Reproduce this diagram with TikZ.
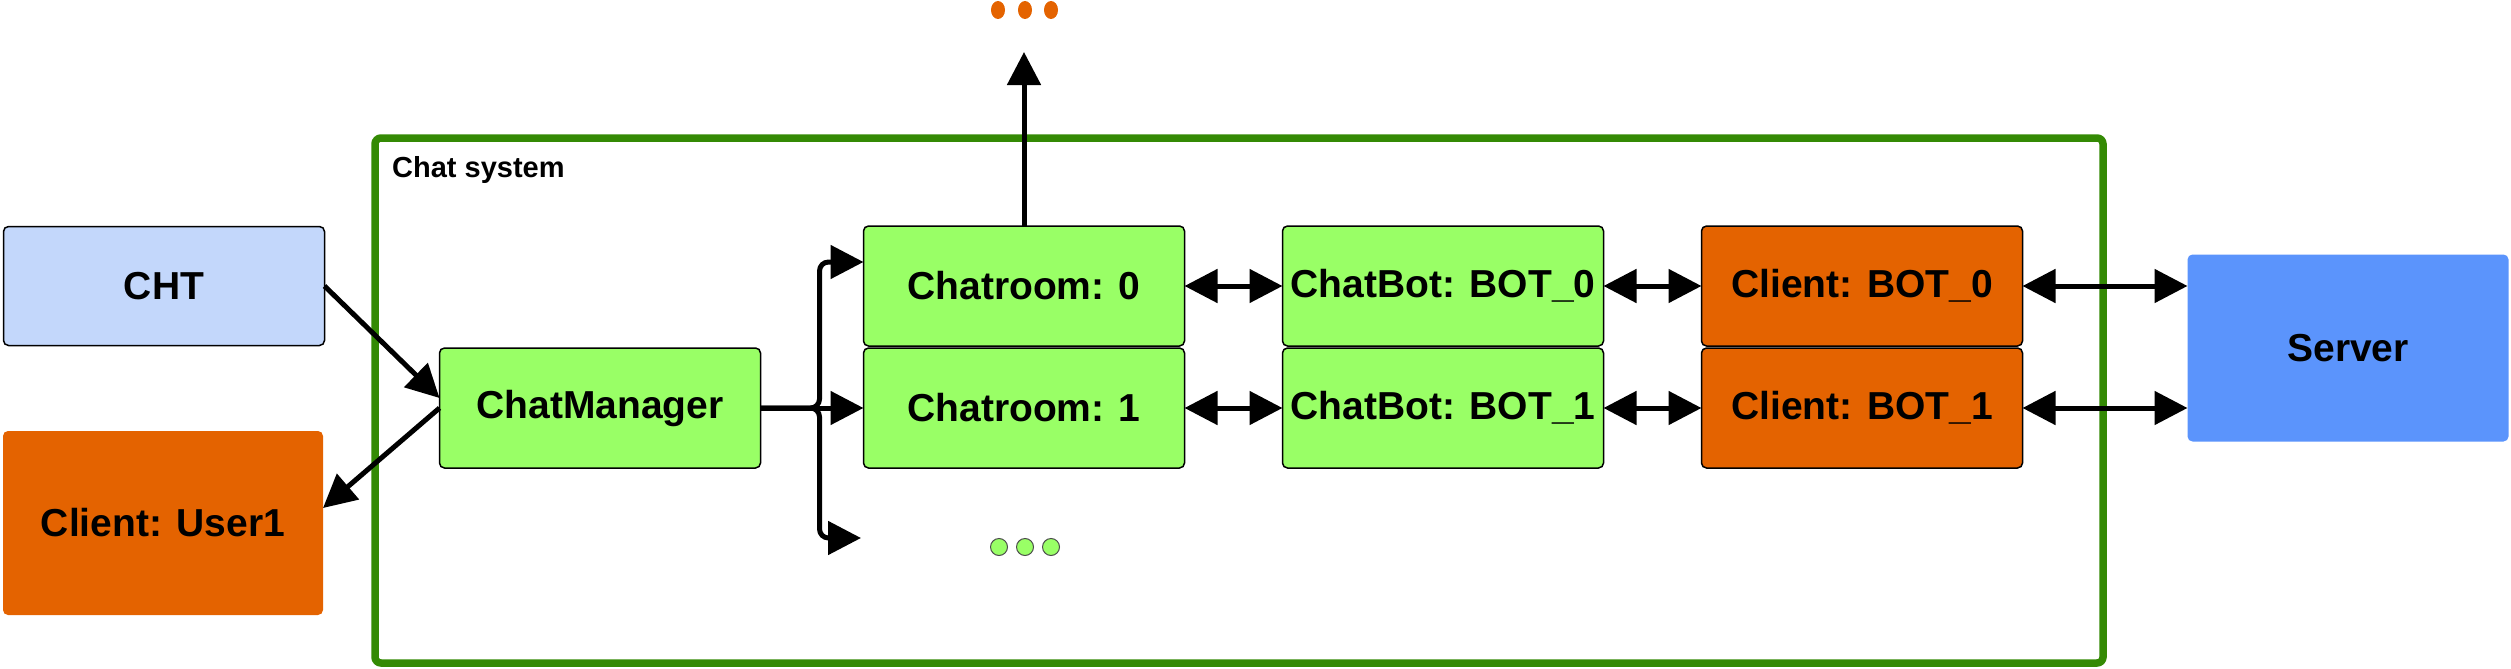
\documentclass[tikz,border=0pt]{standalone}
\usepackage{fontspec}
\setmainfont{Liberation Sans}
\usetikzlibrary{positioning}
\usetikzlibrary{arrows.meta}
\usetikzlibrary{shapes.geometric}

\definecolor{roomgreen}{HTML}{99FF66}
\definecolor{clientorange}{HTML}{E46300}
\definecolor{chtblue}{HTML}{C3D7FB}
\definecolor{serverblue}{HTML}{5B94FC}
\definecolor{framegreen}{HTML}{348A04}

\begin{document}
\begin{tikzpicture}[x=1pt, y=-1pt,
            >={Triangle[length=33pt,width=33pt]},
            link/.style={line width=5pt},
            boxnode/.style={rectangle, rounded corners=5pt, inner sep=2pt, outer sep=0pt, minimum width=321pt, minimum height=120pt, font=\bfseries\fontsize{39}{46}\selectfont},
            greensquarednode/.style={boxnode, draw=black, line width=1.5pt, fill=roomgreen},
            orangesquarednode/.style={boxnode, draw=black, line width=1.5pt, fill=clientorange},
            bluesquarednode/.style={boxnode, draw=black, line width=1.5pt, fill=chtblue},
            greendot/.style={circle, draw=black!70, line width=1pt, fill=roomgreen, minimum size=17pt, inner sep=0pt},
            orangedot/.style={ellipse, fill=clientorange, minimum width=14pt, minimum height=18pt, inner sep=0pt},
            ]
            \useasboundingbox (0,0) rectangle (2511,669);

            % chat system frame
            \node[rectangle, rounded corners=6pt, draw=framegreen, line width=7.5pt, minimum width=1728pt, minimum height=525pt] (system) at (1239,400.5) {};
            \node[anchor=west, inner sep=0pt, font=\bfseries\fontsize{29}{35}\selectfont] (systemlabel) at (392,170) {Chat system};

            \node[bluesquarednode, minimum height=119pt] (CHT) at (164,286) {CHT};
            \node[boxnode, fill=clientorange, minimum width=320pt, minimum height=184pt] (User) at (163,523) {Client: User1};
            \node[greensquarednode] (Manager) at (600,408) {ChatManager};

            \node[greensquarednode] (Room0) at (1024,286) {Chatroom: 0};
            \node[greensquarednode, below=2pt of Room0] (Room1) {Chatroom: 1};
            \node[greensquarednode, right=98pt of Room0] (Bot0) {ChatBot: BOT\_0};
            \node[greensquarednode, right=98pt of Room1] (Bot1) {ChatBot: BOT\_1};
            \node[orangesquarednode, right=98pt of Bot0] (Client0) {Client: BOT\_0};
            \node[orangesquarednode, right=98pt of Bot1] (Client1) {Client: BOT\_1};
            \node[boxnode, fill=serverblue, minimum height=187pt] (Server) at (2348,348) {Server};

            % more chatrooms
            \node[greendot] (dotA) at (999,547) {};
            \node[greendot] (dotB) at (1025,547) {};
            \node[greendot] (dotC) at (1051,547) {};
            \node[orangedot] (moreA) at (998,10) {};
            \node[orangedot] (moreB) at (1025,10) {};
            \node[orangedot] (moreC) at (1051,10) {};

            \coordinate (roomtop) at ([yshift=24pt]Room0.west);
            \coordinate (roommore) at (861,538);
            \coordinate (up) at (1024,52);

            \draw[->, link] (CHT.east) -- ([yshift=10pt]Manager.west);
            \draw[->, link] (Manager.west) -- ([yshift=15pt]User.east);

            \draw[->, link, rounded corners=9pt] (Manager.east) -- ++(59,0) |- (roomtop);
            \draw[->, link] (Manager.east) -- (Room1.west);
            \draw[->, link, rounded corners=9pt] (Manager.east) -- ++(59,0) |- (roommore);

            \draw[->, link] (Room0.north) -- (up);

            \draw[<->, link] (Room0.east) -- (Bot0.west);
            \draw[<->, link] (Room1.east) -- (Bot1.west);
            \draw[<->, link] (Bot0.east) -- (Client0.west);
            \draw[<->, link] (Bot1.east) -- (Client1.west);
            \draw[<->, link] (Client0.east) -- (Client0.east -| Server.west);
            \draw[<->, link] (Client1.east) -- (Client1.east -| Server.west);
        \end{tikzpicture}
\end{document}
